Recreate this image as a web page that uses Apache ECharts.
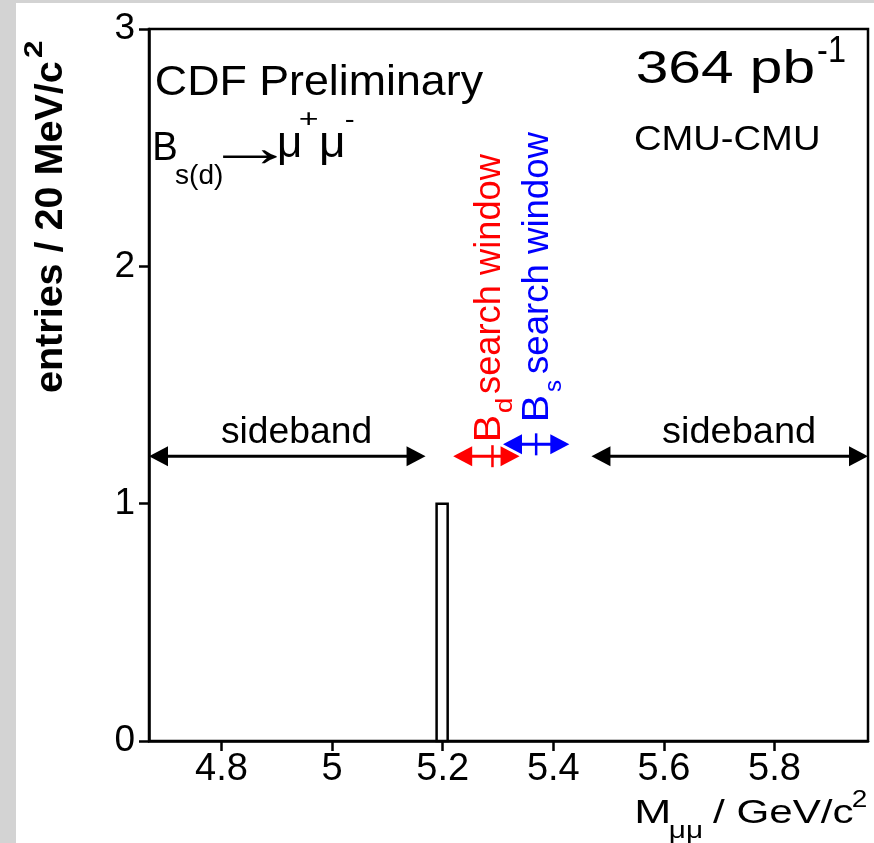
<!DOCTYPE html>
<html><head><meta charset="utf-8">
<script src="https://cdn.jsdelivr.net/npm/echarts@6/dist/echarts.min.js"></script>
<style>
html,body{margin:0;padding:0;background:#d3d3d3;width:874px;height:843px;overflow:hidden}
#panel{position:absolute;left:16px;top:3px;width:858px;height:840px;background:#fff}
#chart{position:absolute;left:0;top:0;width:874px;height:843px}
</style></head><body><div id="panel"></div><div id="chart"></div>
<script>
// ---- data ----
const xMin = 4.669, xMax = 5.969;            // M_mumu range (GeV/c^2)
const binStart = 4.669, binWidth = 0.02;     // 20 MeV bins
const counts = [
  0,0,0,0,0,0,0,0,0,0,
  0,0,0,0,0,0,0,0,0,0,
  0,0,0,0,0,0,1,0,0,0,
  0,0,0,0,0,0,0,0,0,0,
  0,0,0,0,0,0,0,0,0,0,
  0,0,0,0,0,0,0,0,0,0,
  0,0,0,0,0
];
const xTickValues = [4.8, 5.0, 5.2, 5.4, 5.6, 5.8];
const yTickValues = [0, 1, 2, 3];
// annotation arrows: [from, to, y]
const sidebandLeft  = [4.669, 5.169, 1.2];
const sidebandRight = [5.469, 5.969, 1.2];
const bdWindow      = [5.219, 5.339, 1.2];
const bsWindow      = [5.309, 5.429, 1.25];
const bdMark = [5.29, 1.2];
const bsMark = [5.369, 1.25];

const FONT = '"Liberation Sans", Arial, Helvetica, sans-serif';

const histData = counts.map((c, i) => [binStart + i * binWidth, binStart + (i + 1) * binWidth, c]);
const arrowData = [
  sidebandLeft.concat(['#000000']),
  sidebandRight.concat(['#000000']),
  bdWindow.concat(['#ff0000']),
  bsWindow.concat(['#0000ff'])
];
const markData = [bdMark.concat(['#ff0000']), bsMark.concat(['#0000ff'])];

// ---- text helper: place text by ink start / baseline / ink width ----
const mctx = document.createElement('canvas').getContext('2d');
function T(text, o) {
  const font = (o.bold ? 'bold ' : '') + o.fs + 'px ' + FONT;
  mctx.font = font;
  mctx.textBaseline = 'alphabetic';
  const m = mctx.measureText(text);
  mctx.textBaseline = 'middle';
  const mh = mctx.measureText('H');
  mctx.textBaseline = 'alphabetic';
  const mh0 = mctx.measureText('H');
  const d = mh.actualBoundingBoxDescent - mh0.actualBoundingBoxDescent; // baseline below middle
  const inkW = m.actualBoundingBoxLeft + m.actualBoundingBoxRight;
  const sx = o.w ? o.w / inkW : 1;
  return {
    type: 'text', x: o.x, y: o.y, rotation: o.rot ? Math.PI / 2 : 0, scaleX: sx, z: 10,
    style: {text: text, x: m.actualBoundingBoxLeft, y: -d, fill: o.color || '#000',
      fontSize: o.fs, fontFamily: FONT, fontWeight: o.bold ? 'bold' : 'normal', align: 'left', verticalAlign: 'middle'}
  };
}

const texts = [
  T('CDF Preliminary', {x: 157, y: 95, fs: 42, w: 326}),
  T('B',    {x: 155, y: 160, fs: 40, w: 21}),
  T('s(d)', {x: 175, y: 184, fs: 28, w: 47}),
  T('→',    {x: 222, y: 166, fs: 56, w: 55, bold: 1}),
  T('μ',    {x: 279, y: 157, fs: 44, w: 21}),
  T('+',    {x: 300, y: 127, fs: 26, w: 17}),
  T('μ',    {x: 321, y: 157, fs: 44, w: 22}),
  T('-',    {x: 346, y: 128, fs: 26, w: 8}),
  T('364 pb', {x: 637, y: 83, fs: 46, w: 176}),
  T('-1',   {x: 818, y: 62, fs: 36, w: 27}),
  T('CMU-CMU', {x: 635, y: 150, fs: 35, w: 183}),
  T('sideband', {x: 222, y: 443, fs: 36, w: 148}),
  T('sideband', {x: 663, y: 443, fs: 36, w: 151}),
  // Bd search window (rotated, reading upward)
  T('B', {x: 500, y: 440, fs: 36, w: 24, rot: 1, color: '#ff0000'}),
  T('d', {x: 512, y: 412, fs: 24, w: 13, rot: 1, color: '#ff0000'}),
  T('search window', {x: 500, y: 393, fs: 36, w: 240, rot: 1, color: '#ff0000'}),
  // Bs search window
  T('B', {x: 548, y: 420, fs: 36, w: 24, rot: 1, color: '#0000ff'}),
  T('s', {x: 561, y: 392, fs: 24, w: 12, rot: 1, color: '#0000ff'}),
  T('search window', {x: 548, y: 373, fs: 36, w: 242, rot: 1, color: '#0000ff'}),
  // y axis title
  T('entries / 20 MeV/c', {x: 62, y: 392, fs: 39, w: 330, bold: 1, rot: 1}),
  T('2', {x: 42, y: 58, fs: 26, w: 17, bold: 1, rot: 1}),
  // x axis title
  T('M', {x: 637, y: 823, fs: 33, w: 31}),
  T('μμ', {x: 670, y: 838, fs: 24, w: 32}),
  T('/ GeV/c', {x: 713, y: 823, fs: 33, w: 140}),
  T('2', {x: 853, y: 807, fs: 24, w: 14})
];

const chart = echarts.init(document.getElementById('chart'));
chart.setOption({
  animation: false,
  backgroundColor: 'transparent',
  grid: {left: 149, top: 29, right: 6, bottom: 102, show: true, borderColor: '#000', borderWidth: 2.5, backgroundColor: 'transparent'},
  xAxis: {
    type: 'value', min: xMin, max: xMax,
    axisLine: {show: true, onZero: false, lineStyle: {color: '#000', width: 2.5}},
    axisTick: {show: true, inside: false, length: 10, lineStyle: {color: '#000', width: 2.5}, customValues: xTickValues},
    axisLabel: {show: true, customValues: xTickValues, color: '#000', fontSize: 38, fontFamily: FONT, margin: 10,
      formatter: v => String(Math.round(v * 10) / 10)},
    splitLine: {show: false}
  },
  yAxis: {
    type: 'value', min: 0, max: 3, interval: 1,
    axisLine: {show: true, lineStyle: {color: '#000', width: 2.5}},
    axisTick: {show: true, inside: false, length: 10, lineStyle: {color: '#000', width: 2.5}},
    axisLabel: {show: true, color: '#000', fontSize: 37, fontFamily: FONT, margin: 14,
      formatter: v => (yTickValues.indexOf(v) >= 0 ? String(v) : '')},
    splitLine: {show: false}
  },
  series: [
    {
      type: 'custom', name: 'entries', data: histData, z: 5,
      encode: {x: [0, 1], y: 2},
      renderItem: function (params, api) {
        const lo = api.value(0), hi = api.value(1), c = api.value(2);
        if (!c) return {type: 'group', children: []};
        const p0 = api.coord([lo, 0]), p1 = api.coord([hi, c]);
        return {type: 'rect', shape: {x: p0[0], y: p1[1], width: p1[0] - p0[0], height: p0[1] - p1[1]},
          style: {fill: '#fff', stroke: '#000', lineWidth: 2.5}};
      }
    },
    {
      type: 'custom', name: 'arrows', data: arrowData, z: 6,
      encode: {x: [0, 1], y: 2},
      renderItem: function (params, api) {
        const a = api.coord([api.value(0), api.value(2)]);
        const b = api.coord([api.value(1), api.value(2)]);
        const col = arrowData[params.dataIndex][3];
        const L = 19, W = 10;
        return {type: 'group', children: [
          {type: 'line', shape: {x1: a[0] + 4, y1: a[1], x2: b[0] - 4, y2: b[1]}, style: {stroke: col, lineWidth: 3}},
          {type: 'polygon', shape: {points: [[a[0], a[1]], [a[0] + L, a[1] - W], [a[0] + L, a[1] + W]]}, style: {fill: col}},
          {type: 'polygon', shape: {points: [[b[0], b[1]], [b[0] - L, b[1] - W], [b[0] - L, b[1] + W]]}, style: {fill: col}}
        ]};
      }
    },
    {
      type: 'custom', name: 'marks', data: markData, z: 6,
      encode: {x: 0, y: 1},
      renderItem: function (params, api) {
        const p = api.coord([api.value(0), api.value(1)]);
        const col = markData[params.dataIndex][2];
        return {type: 'line', shape: {x1: p[0], y1: p[1] - 11, x2: p[0], y2: p[1] + 11}, style: {stroke: col, lineWidth: 2.5}};
      }
    }
  ],
  graphic: texts
});
</script></body></html>
